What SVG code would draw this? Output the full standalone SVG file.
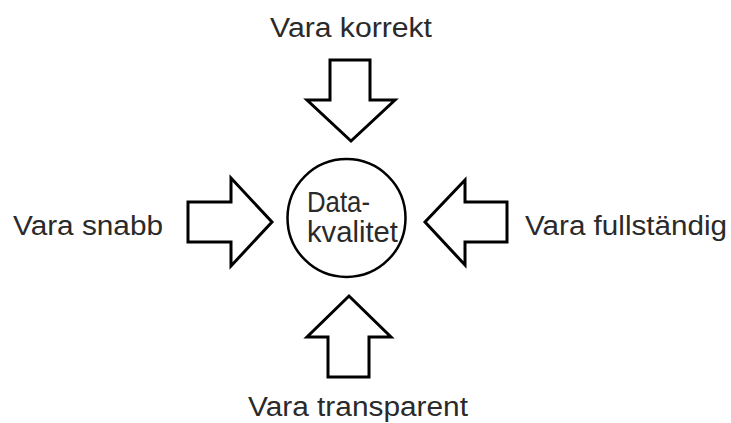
<svg xmlns="http://www.w3.org/2000/svg" width="731" height="423" viewBox="0 0 731 423">
  <style>
    .arrow { fill: #ffffff; stroke: #000000; stroke-width: 3; stroke-linejoin: miter; }
    .hub { fill: #ffffff; stroke: #000000; stroke-width: 2.5; }
    .label { font-family: "Liberation Sans", Arial, sans-serif; font-size: 27px; fill: #2a2a2a; }
    .hub-label { font-size: 30px; }
  </style>
  <rect width="731" height="423" fill="#ffffff"/>

  <!-- block arrows pointing inwards -->
  <g id="connectors">
    <polygon id="arrow-top" class="arrow" points="330,60 370,60 370,100 395,100 351,141 307,100 330,100"/>
    <polygon id="arrow-left" class="arrow" points="188,202 231,202 231,178 272,222 231,266 231,242 188,242"/>
    <polygon id="arrow-right" class="arrow" points="507,202 465,202 465,180 425,222 465,265 465,242 507,242"/>
    <polygon id="arrow-bottom" class="arrow" points="328,377 369,377 369,337 391,337 349,296 307,337 328,337"/>
  </g>

  <g id="node-datakvalitet">
    <circle class="hub" cx="346.5" cy="218" r="59"/>
    <text class="label hub-label" x="307" y="212" textLength="63" lengthAdjust="spacingAndGlyphs">Data-</text>
    <text class="label hub-label" x="307" y="242" textLength="91" lengthAdjust="spacingAndGlyphs">kvalitet</text>
  </g>

  <g id="node-korrekt">
    <text class="label" x="270" y="37" textLength="162" lengthAdjust="spacingAndGlyphs">Vara korrekt</text>
  </g>
  <g id="node-snabb">
    <text class="label" x="13" y="235" textLength="150" lengthAdjust="spacingAndGlyphs">Vara snabb</text>
  </g>
  <g id="node-fullstandig">
    <text class="label" x="525" y="235" textLength="202" lengthAdjust="spacingAndGlyphs">Vara fullständig</text>
  </g>
  <g id="node-transparent">
    <text class="label" x="248" y="416" textLength="220" lengthAdjust="spacingAndGlyphs">Vara transparent</text>
  </g>
</svg>
